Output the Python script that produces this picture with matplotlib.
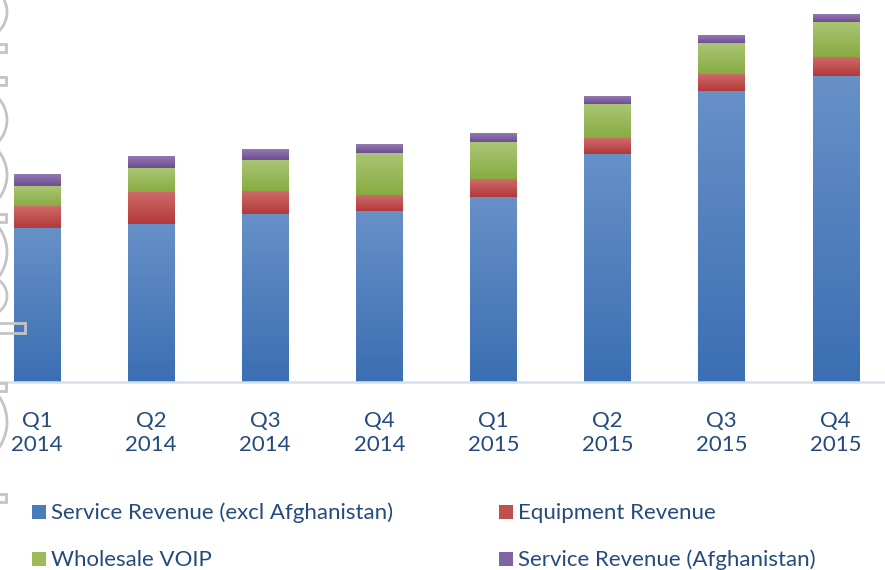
import numpy as np
import matplotlib
matplotlib.use("Agg")
import matplotlib.pyplot as plt
from matplotlib.patches import Rectangle, Arc
from matplotlib.colors import LinearSegmentedColormap

# ---- data (relative revenue units) ----
quarters = ["Q1\n2014", "Q2\n2014", "Q3\n2014", "Q4\n2014",
            "Q1\n2015", "Q2\n2015", "Q3\n2015", "Q4\n2015"]
service_excl = [154, 158, 168, 171, 185, 228, 291, 306]
equipment = [22, 32, 23, 16, 18, 16, 17, 19]
wholesale_voip = [20, 24, 31, 42, 37, 34, 31, 35]
service_afg = [12, 12, 11, 9, 9, 8, 8, 8]

series_names = ["Service Revenue (excl Afghanistan)", "Equipment Revenue",
                "Wholesale VOIP", "Service Revenue (Afghanistan)"]
series_vals = [service_excl, equipment, wholesale_voip, service_afg]
grad = [("#6790c7", "#3b6fb3"),
        ("#cd6b69", "#b3393a"),
        ("#aac574", "#88ac43"),
        ("#9479b2", "#6d4e91")]
solid = ["#4a7bbd", "#c0504d", "#9bbb59", "#8064a2"]
text_color = "#254b7c"
FONT = "Lato"
FS = 16

W, H = 885, 570
fig = plt.figure(figsize=(W / 100, H / 100), dpi=100)
base_px = 382
ax = fig.add_axes([0, (H - base_px) / H, 1, base_px / H])
x = np.arange(len(quarters))

bottom = np.zeros(len(quarters))
for vals, (ctop, cbot) in zip(series_vals, grad):
    vals = np.array(vals, dtype=float)
    bars = ax.bar(x, vals, 0.405, bottom=bottom, color="none", linewidth=0)
    cmap = LinearSegmentedColormap.from_list("g", [cbot, ctop])
    g = np.linspace(0, 1, 64).reshape(-1, 1)
    for b in bars:
        x0, y0, w, h = b.get_x(), b.get_y(), b.get_width(), b.get_height()
        im = ax.imshow(g, cmap=cmap, origin="lower", aspect="auto",
                       extent=(x0, x0 + w, y0, y0 + h), interpolation="bilinear",
                       zorder=2)
        im.set_clip_path(b)
    bottom += vals
ax.set_xlim(-0.324, 7.432)
ax.set_ylim(0, 382)

for s in ["top", "left", "right"]:
    ax.spines[s].set_visible(False)
ax.spines["bottom"].set_color("#d5e0ee")
ax.spines["bottom"].set_linewidth(1.8)
ax.set_yticks([])
ax.set_xticks(x)
ax.set_xticklabels(quarters, fontsize=FS, color=text_color, family=FONT,
                   linespacing=1.25)
ax.tick_params(axis="x", length=0, pad=21)

# ---- legend (manual, two columns) ----
legend_pos = [(32, 505), (499, 505), (32, 552), (499, 552)]
for name, col, (lx, ly) in zip(series_names, solid, legend_pos):
    fig.patches.append(Rectangle((lx, H - ly - 14), 14, 14, transform=None,
                                 facecolor=col, edgecolor="none"))
    fig.text((lx + 19) / W, (H - ly - 14) / H, name, fontsize=FS,
             color=text_color, family=FONT, va="baseline", ha="left")

# ---- faint decorative outlines cut off at the left edge ----
gray = "#c4c4c4"
for cy, half in [(12, 18), (120, 20), (175, 22), (252, 23), (296, 15), (422, 24)]:
    r = (half ** 2 + 49) / 14.0
    c = r - 7
    fig.patches.append(Arc((-c, H - cy), 2 * r, 2 * r, transform=None,
                           theta1=-60, theta2=60, color=gray, lw=2))
for cy in [48, 81, 218, 387, 498]:
    fig.patches.append(Rectangle((-3, H - cy - 4), 9, 8, transform=None,
                                 facecolor="none", edgecolor=gray, lw=2))
fig.patches.append(Rectangle((-3, H - 333), 28, 10, transform=None,
                             facecolor="none", edgecolor=gray, lw=2))

fig.savefig("out.png", dpi=100)
